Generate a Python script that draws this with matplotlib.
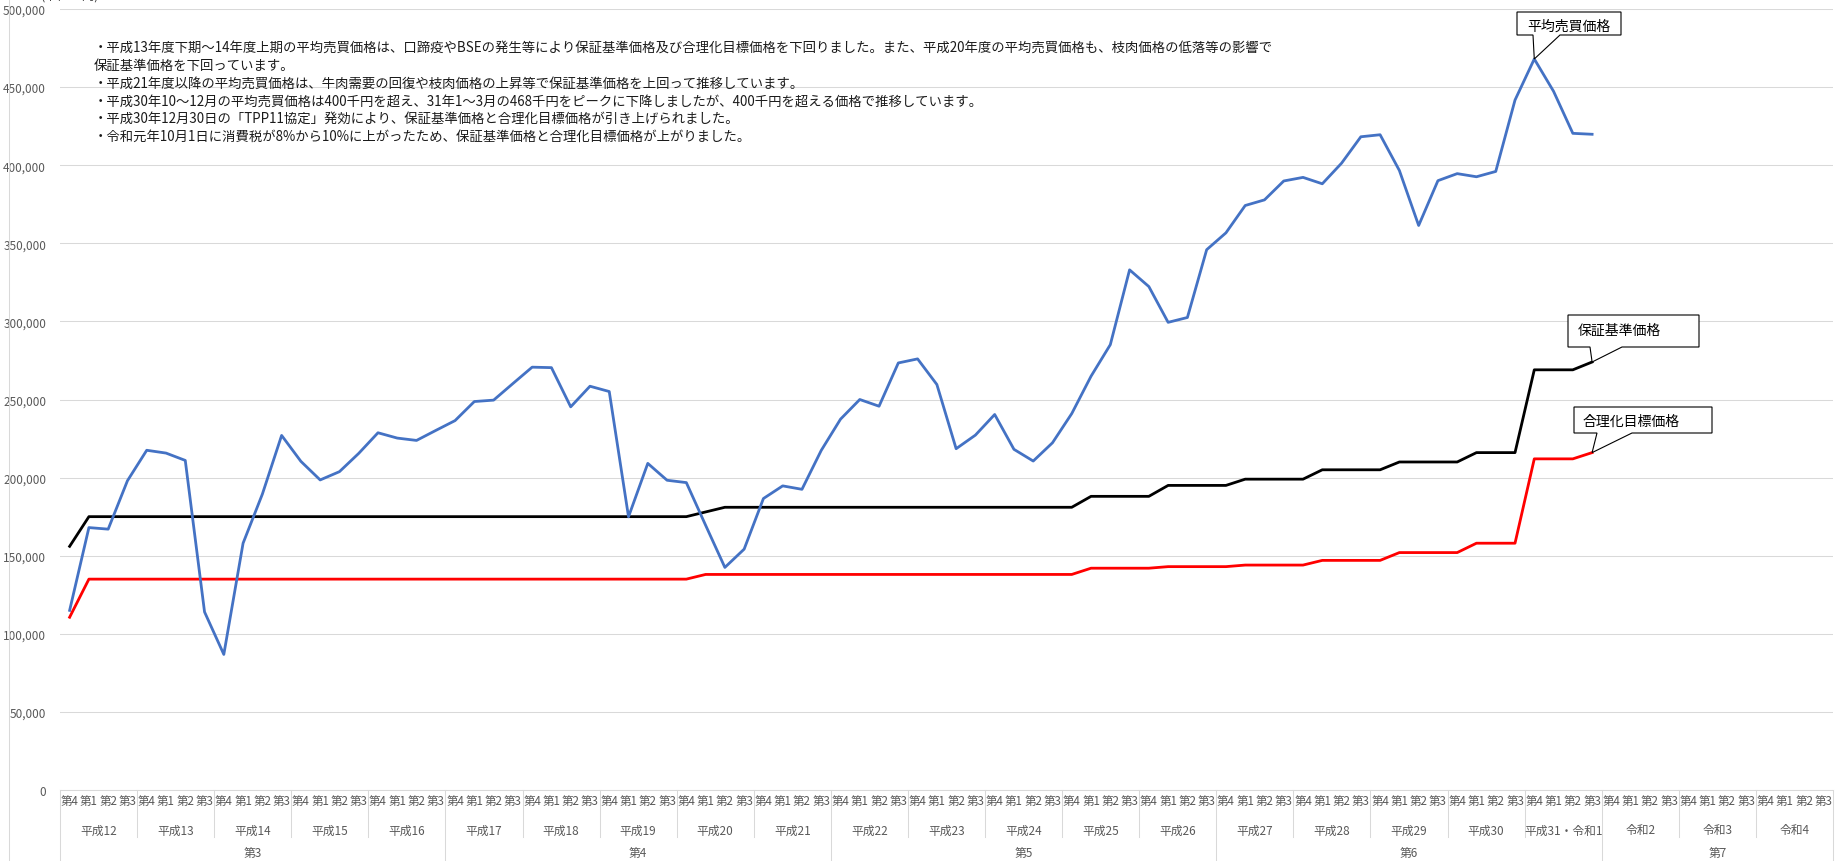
import matplotlib.pyplot as plt
from matplotlib.patches import Polygon
from matplotlib.lines import Line2D
from matplotlib.ticker import FuncFormatter
from matplotlib.transforms import blended_transform_factory

plt.rcParams['font.family'] = ['Noto Sans CJK JP', 'DejaVu Sans']

W, H = 1840, 862

quarters = ['第4', '第1', '第2', '第3']
years = ['平成12', '平成13', '平成14', '平成15', '平成16', '平成17', '平成18',
         '平成19', '平成20', '平成21', '平成22', '平成23', '平成24', '平成25',
         '平成26', '平成27', '平成28', '平成29', '平成30', '平成31・令和1',
         '令和2', '令和3', '令和4']
periods = ['第3', '第4', '第5', '第6', '第7']
period_years = [5, 5, 5, 5, 3]

# 平均売買価格 (quarterly, 平成12 第4 .. 令和1 第3)
avg_price = [115000, 168000, 167000, 198000, 217500, 215700, 211000, 114000,
             86800, 158000, 189400, 227000, 210400, 198500, 203800, 215500,
             228700, 225300, 223800, 230200, 236500, 248700, 249600, 260200,
             270700, 270400, 245300, 258500, 255100, 174900, 209100, 198300,
             196800, 169500, 142500, 154200, 186600, 194700, 192500, 217400,
             237400, 250000, 245700, 273400, 276000, 259600, 218500, 227200,
             240400, 218100, 210600, 222300, 241000, 264900, 285100, 333000,
             322300, 299400, 302500, 345900, 356700, 374200, 377800, 389900,
             392200, 388100, 401300, 418200, 419500, 396600, 361400, 390100,
             394600, 392600, 396000, 441700, 468000, 447300, 420400, 419800]

guarantee_price = ([156000] + [175000] * 32 + [178000] + [181000] * 19 +
                   [188000] * 4 + [195000] * 4 + [199000] * 4 + [205000] * 4 +
                   [210000] * 4 + [216000] * 3 + [269000] * 3 + [274000])

target_price = ([110600] + [135000] * 32 + [138000] * 20 + [142000] * 4 +
                [143000] * 4 + [144000] * 4 + [147000] * 4 + [152000] * 4 +
                [158000] * 3 + [212000] * 3 + [216000])

notes = [
    '・平成13年度下期～14年度上期の平均売買価格は、口蹄疫やBSEの発生等により保証基準価格及び合理化目標価格を下回りました。また、平成20年度の平均売買価格も、枝肉価格の低落等の影響で',
    '保証基準価格を下回っています。',
    '・平成21年度以降の平均売買価格は、牛肉需要の回復や枝肉価格の上昇等で保証基準価格を上回って推移しています。',
    '・平成30年10～12月の平均売買価格は400千円を超え、31年1～3月の468千円をピークに下降しましたが、400千円を超える価格で推移しています。',
    '・平成30年12月30日の「TPP11協定」発効により、保証基準価格と合理化目標価格が引き上げられました。',
    '・令和元年10月1日に消費税が8%から10%に上がったため、保証基準価格と合理化目標価格が上がりました。',
]


def fx(px):
    return px / W


def fy(py):
    return 1 - py / H


grey = '#D9D9D9'
label_grey = '#595959'

fig = plt.figure(figsize=(W / 100, H / 100), dpi=100)
ax = fig.add_axes([fx(60), fy(791), fx(1833) - fx(60), fy(10) - fy(791)])

n_cat = len(years) * 4
x = list(range(len(avg_price)))
ax.plot(x, guarantee_price, color='black', lw=2)
ax.plot(x, target_price, color='#FF0000', lw=2)
ax.plot(x, avg_price, color='#4472C4', lw=2)

ax.set_xlim(-0.5, n_cat - 0.5)
ax.set_ylim(0, 500000)
ax.set_yticks(range(0, 500001, 50000))
ax.yaxis.set_major_formatter(FuncFormatter(lambda v, p: f'{int(v):,}'))
ax.yaxis.grid(True, color=grey, lw=0.75)
ax.set_axisbelow(True)
ax.set_xticks([])
ax.tick_params(axis='y', length=0, pad=10, labelsize=8.5, labelcolor=label_grey)
for s in ['left', 'right', 'top']:
    ax.spines[s].set_visible(False)
ax.spines['bottom'].set_color(grey)
ax.spines['bottom'].set_linewidth(0.75)

# multi-level category axis
bt = blended_transform_factory(ax.transData, fig.transFigure)
for i in range(n_cat):
    ax.text(i, fy(802), quarters[i % 4], transform=bt, ha='center', va='center',
            fontsize=8.3, color=label_grey)
for g, name in enumerate(years):
    ax.text(g * 4 + 1.5, fy(831), name, transform=bt, ha='center', va='center',
            fontsize=8.5, color=label_grey)

bounds = [0]
for n in period_years:
    bounds.append(bounds[-1] + n)
for g in range(len(years) + 1):
    bottom = 862 if g in bounds else 838
    ax.plot([g * 4 - 0.5] * 2, [fy(791), fy(bottom)], transform=bt,
            color=grey, lw=0.75, clip_on=False)
for k, name in enumerate(periods):
    xc = (bounds[k] + bounds[k + 1]) * 2 - 0.5
    ax.text(xc, fy(854), name, transform=bt, ha='center', va='center',
            fontsize=8.5, color=label_grey)

# chart area left border
fig.add_artist(Line2D([fx(9.5)] * 2, [0, 1], color=grey, lw=0.75))

# unit label (cut off at the top, as in the original)
fig.text(fx(41), fy(-4), '(単位：円)', fontsize=9, va='center', color='#404040')

# notes
for k, line in enumerate(notes):
    fig.text(fx(94), fy(48 + k * 17.8), line, fontsize=9.6, va='center',
             color='#1a1a1a')


def callout(idx, values, box, base, text, text_xy, ha):
    tx, ty = ax.transData.transform((idx, values[idx]))
    ty = H - ty
    x0, y0, x1, y1 = box
    pts = [(x0, y0), (x1, y0), (x1, y1), (base[1], y1), (tx, ty),
           (base[0], y1), (x0, y1)]
    pts = [(fx(px), fy(py)) for px, py in pts]
    fig.add_artist(Polygon(pts, closed=True, facecolor='white',
                           edgecolor='black', lw=0.8, transform=fig.transFigure))
    fig.text(fx(text_xy[0]), fy(text_xy[1]), text, fontsize=10, ha=ha,
             va='center', color='black')


callout(76, avg_price, (1517, 13, 1621, 36), (1533, 1560), '平均売買価格',
        (1569, 27), 'center')
callout(79, guarantee_price, (1568, 316, 1699, 348), (1590, 1622), '保証基準価格',
        (1578, 331), 'left')
callout(79, target_price, (1574, 408, 1712, 434), (1597, 1632), '合理化目標価格',
        (1583, 422), 'left')

fig.savefig('out.png', dpi=100)
